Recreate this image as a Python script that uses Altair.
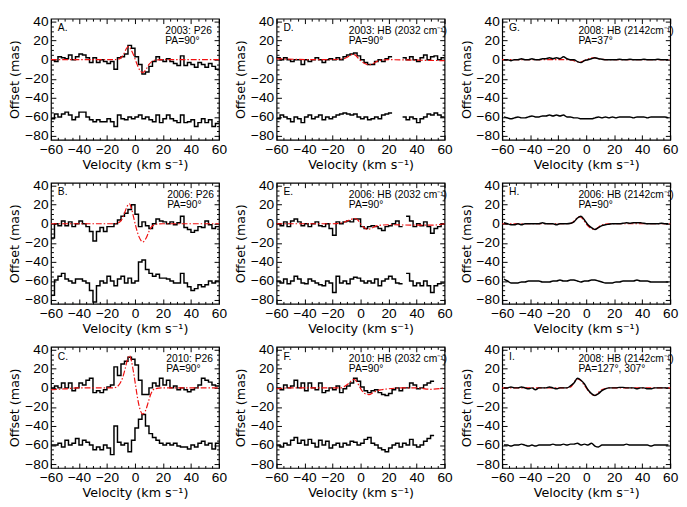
import altair as alt
import pandas as pd

# ---------------- data ----------------
BIN_WIDTH = 2.5
BIN_EDGES = [-60 + BIN_WIDTH * i for i in range(48)]   # velocity bins, km/s

A_UP = [0,-2,3,2,1,5,0,3,6,5, 2,-3,2,-3,0,-2,-4,-2,-10,2, 3,6,15,12,3,-5,-15,-13,-7,-2,
        3,0,-2,1,-2,-4,-6,4,-6,-3, -5,-8,-3,-5,-8,-4,-7,-10]
A_LO = [-62,-57,-60,-57,-55,-58,-63,-60,-55,-55, -60,-63,-65,-63,-65,-65,-62,-65,-70,-58,
        -62,-63,-60,-62,-60,-58,-62,-60,-63,-65, -58,-66,-62,-58,-62,-64,-66,-58,-66,-65,
        -63,-70,-66,-62,-66,-63,-70,-67]
A_MV = [-60,-15,-12,-10,-8,-6,-4.5,-3,-1,1,3,5.5,8,10,12,15,20,60]
A_MY = [0,0,0.5,2,6,12,14,11,5,-3,-10,-13.5,-10,-5,-2,-0.3,0,0]

B_UP = [-15,0,-2,3,-2,2,-3,0,3,0, -3,-8,-18,-8,-4,-8,-3,-3,0,4, 8,11,15,20,10,-3,2,-2,-5,0,
        5,3,2,0,2,-1,1,8,-4,-6, -9,-7,-3,-4,3,-1,-5,-3]
B_LO = [-75,-59,-55,-52,-58,-60,-62,-58,-58,-60, -62,-70,-82,-65,-60,-62,-55,-60,-65,-58,
        -55,-62,-57,-62,-60,-40,-38,-48,-52,-55, -53,-57,-57,-58,-60,-62,-62,-52,-62,-66,
        -70,-68,-64,-66,-64,-60,-62,-60]
B_MV = [-60,-15,-12,-10,-8,-6,-4,-2.5,-1,1,3,5.5,8,10,12,15,20,60]
B_MY = [0,0,1,3,9,17,21,16,7,-5,-14,-19,-15,-8,-3,-0.5,0,0]

C_UP = [0,2,0,5,0,5,-3,0,5,3, 8,10,-5,-3,-5,-2,1,3,22,13, 25,28,32,30,24,8,-7,-7,0,5,
        2,10,3,8,0,2,-2,0,-2,-4, -2,0,3,10,8,6,3,2]
C_LO = [-60,-60,-58,-62,-55,-60,-58,-53,-60,-55, -57,-60,-65,-62,-65,-60,-63,-70,-40,-57,
        -60,-58,-67,-55,-42,-33,-28,-40,-48,-52, -55,-58,-60,-58,-60,-58,-61,-62,-62,-64,
        -60,-62,-58,-56,-60,-58,-64,-58]
C_MV = [-60,-50,-40,-15,-13,-11,-9,-7,-5.5,-4,-2.5,-1,0.5,2,3.5,5.5,7.5,9.5,11.5,14,20,60]
C_MY = [-2,-1,0,0,1,4,10,20,29,34,28,16,2,-12,-22,-27.5,-24,-15,-6,-1,0,0]

D_UP = [2,0,2,0,-2,0,0,-5,0,-2, 0,2,0,-3,0,1,0,2,0,3, 5,6,7,4,0,-3,-5,-5,-2,0,
        -2,1,3,None,None,None,2,0,3,0, -2,2,5,0,3,4,0,2]
D_LO = [-62,-58,-60,-62,-65,-60,-62,-66,-60,-58, -62,-60,-58,-63,-60,-62,-60,-58,-57,-56,
        -57,-58,-57,-60,-62,-60,-63,-62,-60,-62, -58,-57,-56,None,None,None,-60,-63,-60,-62,
        -66,-62,-60,-57,-58,-56,-58,-60]
D_MV = [-60,-30,-15,-12,-9,-6,-4,-2,0,3,6,9,12,15,20,40,60]
D_MY = [1,0,0.5,1,3,5.5,5,2,-1,-4,-5.5,-4,-1.5,-0.5,0,-0.5,-1]

E_UP = [0,-2,2,-3,3,5,2,-2,0,-3, 0,2,-2,-3,0,-5,-12,2,0,2, 3,2,5,5,-3,-5,-3,-2,-3,-5,
        -7,-3,-2,0,3,-3,None,8,3,-3, 0,-2,2,-3,-10,-5,-3,0]
E_LO = [-60,-62,-58,-63,-60,-55,-58,-62,-63,-58, -60,-62,-64,-65,-60,-62,-72,-55,-62,-60,
        -63,-58,-56,-57,-60,-62,-60,-62,-58,-65, -60,-58,-55,-58,-62,-63,None,-52,-60,-65,
        -62,-65,-60,-65,-72,-65,-63,-62]
E_MV = [-60,-20,-12,-8,-4,-2,0,2.5,5,8,12,20,40,50,60]
E_MY = [0,0,1.5,4,5.5,4,0,-4,-6,-4.5,-2,-1,-1.5,-1.5,0]

F_UP = [0,-2,3,0,2,8,0,5,-3,5, 0,-2,5,-5,-3,0,-2,2,-5,-1, 2,5,10,7,1,-3,-5,-3,-2,-5,
        -7,-8,-6,-2,0,-3,0,0,5,3, -1,0,3,5,7,None,None,None]
F_LO = [-60,-62,-58,-60,-55,-52,-58,-55,-60,-54, -58,-62,-55,-60,-56,-63,-60,-58,-62,-58,
        -60,-56,-57,-60,-58,-54,-52,-58,-60,-63, -65,-67,-63,-60,-58,-62,-58,-60,-54,-60,
        -62,-60,-56,-53,-50,None,None,None]
F_MV = [-60,-50,-30,-15,-12,-9,-6,-4.5,-3,-1,1,3,6,9,12,15,20,30,40,50,60]
F_MY = [-1,0,0,0,1,4,8,9,7,2,-3,-6,-7,-5,-3,-2,-1,0,0,-1.5,0]

G_UP = [0,0,-1,0,0,1,0,0,1,0, 0,1,1,2,1,2,1,3,1,0, 0,-2,-3,-1,0,1,2,1,0.5,0,
        0,0,0,0.5,0,0,0.5,0,0,0, 0.5,0,0,0,0.5,0,0,0]
G_LO = [-60,-61,-62,-61,-60,-61,-61,-60,-59,-60, -60,-59,-59,-58,-59,-58,-59,-58,-60,-60,
        -61,-61,-62,-62,-62,-62,-61,-60,-61,-60, -61,-60,-61,-60,-60,-60,-60,-61,-60,-60,
        -60,-61,-60,-60,-60,-60,-60,-61]
G_MV = [-60,-15,-10,-7,-5,-2,0,3,5,8,12,15,60]
G_MY = [0,0,-0.5,-2,-2.5,-1.5,0,1.5,2,1.2,0.3,0,0]

H_UP = [1,0,-1,-1,0,-1,0,0,0,0, 0,1,0,0,0,-1,0,0,0,0.5, 2,6,8,4,-1,-4,-6,-4,-2,-1,
        -0.5,0,0,0,0.5,1,0.5,1,1,1, 0.5,0,0,0,0,0.5,0,0]
H_LO = [-58,-60,-62,-62,-62,-61,-61,-60,-60,-60, -60,-61,-61,-61,-60,-60,-59,-60,-60,-59,
        -59,-60,-61,-60,-60,-59,-59,-60,-61,-62, -62,-62,-61,-61,-60,-60,-60,-60,-59,-60,
        -60,-60,-61,-61,-61,-61,-61,-61]
H_MV = [-60,-12,-10,-8,-5,-3,-1,1,3,5.5,8,10,13,16,60]
H_MY = [0,0,1,4,7.5,6,2,-2,-4.5,-6,-4.5,-2,-0.5,0,0]

I_UP = [0,0,1,0,0,1,0,-1,0,-2, 0,0,0,1,0,-1,0,0,0,2, 5,10,8,4,-2,-6,-8,-6,-3,-1,
        0,0,0,0.5,0.5,0,0,0,-1,0, 0,-1,-1,0,0,0,0,0]
I_LO = [-60,-60,-61,-60,-60,-59,-60,-61,-60,-61, -60,-60,-60,-60,-59,-60,-60,-59,-60,-59,
        -59,-58,-60,-59,-60,-58,-61,-62,-60,-60, -60,-60,-60,-60,-60,-59,-60,-60,-60,-60,
        -60,-60,-61,-60,-60,-60,-60,-60]
I_MV = [-60,-14,-11,-9,-6.5,-4,-2,0,2,4,6,8,10,13,17,60]
I_MY = [0,0,1,5,9.5,8,4,0,-4,-7,-8,-6,-3,-1,0,0]

LETTERS = ["A.", "B.", "C.", "D.", "E.", "F.", "G.", "H.", "I."]
LINE1 = ["2003: P26", "2006: P26", "2010: P26",
         "2003: HB (2032 cm\u207b\u00b9)", "2006: HB (2032 cm\u207b\u00b9)", "2010: HB (2032 cm\u207b\u00b9)",
         "2008: HB (2142cm\u207b\u00b9)", "2006: HB (2142cm\u207b\u00b9)", "2008: HB (2142cm\u207b\u00b9)"]
LINE2 = ["PA=90\u00b0", "PA=90\u00b0", "PA=90\u00b0", "PA=90\u00b0", "PA=90\u00b0", "PA=90\u00b0",
         "PA=37\u00b0", "PA=90\u00b0", "PA=127\u00b0, 307\u00b0"]

X_MAJ = [-60, -40, -20, 0, 20, 40, 60]
X_MIN = [-55, -50, -45, -35, -30, -25, -15, -10, -5, 5, 10, 15, 25, 30, 35, 45, 50, 55]
Y_MAJ = [-80, -60, -40, -20, 0, 20, 40]
Y_MIN = [-75, -70, -65, -55, -50, -45, -35, -30, -25, -15, -10, -5, 5, 10, 15, 25, 30, 35]

# ---------------- styling ----------------
W, H = 172, 124
XS = alt.Scale(domain=[-60, 60], nice=False, zero=False)
YS = alt.Scale(domain=[-84, 43], nice=False, zero=False)
LABEL_FONT = "Liberation Sans"
TITLE_FONT = "DejaVu Sans"
RED = "#f01010"

main_x = alt.Axis(orient="bottom", values=X_MAJ, ticks=False, domain=False, grid=False,
                  labelFlush=False, labelOverlap=False, labelPadding=3,
                  labelFont=LABEL_FONT, labelFontSize=14, labelColor="black",
                  title="Velocity (km s\u207b\u00b9)", titleFont=TITLE_FONT, titleFontSize=13,
                  titleFontWeight="normal", titleColor="black", titlePadding=2)
main_y = alt.Axis(orient="left", values=Y_MAJ, ticks=False, domain=False, grid=False,
                  labelFlush=False, labelOverlap=False, labelPadding=3,
                  labelFont=LABEL_FONT, labelFontSize=14, labelColor="black",
                  title="Offset (mas)", titleFont=TITLE_FONT, titleFontSize=13,
                  titleFontWeight="normal", titleColor="black", titlePadding=3)


def tick_axis(orient, values, size):
    return alt.Axis(orient=orient, values=values, tickSize=size, offset=-size, labels=False,
                    domain=False, grid=False, title=None, tickColor="black", tickWidth=1)


def runs(vals):
    out, cur = [], []
    for i, v in enumerate(vals):
        if v is None:
            if cur:
                out.append(cur)
                cur = []
        else:
            cur.append(i)
    if cur:
        out.append(cur)
    return out


def make_panel(k, up, lo, mv, my, smooth, text_x):
    rows = []
    for name, vals in (("up", up), ("lo", lo)):
        for j, run in enumerate(runs(vals)):
            sid = f"{name}{j}"
            if smooth:
                for i in run:
                    rows.append({"v": BIN_EDGES[i] + BIN_WIDTH / 2, "off": vals[i], "s": sid})
            else:
                for i in run:
                    rows.append({"v": BIN_EDGES[i], "off": vals[i], "s": sid})
                last = run[-1]
                rows.append({"v": BIN_EDGES[last] + BIN_WIDTH, "off": vals[last], "s": sid})
    df = pd.DataFrame(rows)
    mdf = pd.DataFrame({"v": mv, "off": my})

    data_layer = alt.Chart(df).mark_line(
        interpolate="monotone" if smooth else "step-after", color="black", strokeWidth=1.5
    ).encode(x=alt.X("v:Q", scale=XS, axis=main_x),
             y=alt.Y("off:Q", scale=YS, axis=main_y),
             detail="s:N")
    model_layer = alt.Chart(mdf).mark_line(
        interpolate="monotone", color=RED, strokeWidth=1.2, strokeDash=[6, 2, 1.5, 2]
    ).encode(x=alt.X("v:Q", scale=XS, axis=tick_axis("top", X_MAJ, 5)),
             y=alt.Y("off:Q", scale=YS, axis=tick_axis("right", Y_MAJ, 5)))
    t1 = alt.Chart(mdf).mark_line(opacity=0).encode(
        x=alt.X("v:Q", scale=XS, axis=tick_axis("bottom", X_MAJ, 5)),
        y=alt.Y("off:Q", scale=YS, axis=tick_axis("left", Y_MAJ, 5)))
    t2 = alt.Chart(mdf).mark_line(opacity=0).encode(
        x=alt.X("v:Q", scale=XS, axis=tick_axis("top", X_MIN, 2.5)),
        y=alt.Y("off:Q", scale=YS, axis=tick_axis("right", Y_MIN, 2.5)))
    t3 = alt.Chart(mdf).mark_line(opacity=0).encode(
        x=alt.X("v:Q", scale=XS, axis=tick_axis("bottom", X_MIN, 2.5)),
        y=alt.Y("off:Q", scale=YS, axis=tick_axis("left", Y_MIN, 2.5)))

    def txt(s, x, y):
        return alt.Chart(pd.DataFrame({"t": [s]})).mark_text(
            align="left", baseline="middle", font=LABEL_FONT, fontSize=10.5, color="black"
        ).encode(x=alt.value(x), y=alt.value(y), text="t:N")

    texts = [txt(LETTERS[k], 7, 10), txt(LINE1[k], text_x, 12.5), txt(LINE2[k], text_x, 23)]
    if smooth:
        layers = [model_layer, data_layer, t1, t2, t3] + texts
    else:
        layers = [data_layer, model_layer, t1, t2, t3] + texts
    return alt.layer(*layers).resolve_axis(x="independent", y="independent").properties(
        width=W, height=H)


series = [
    (A_UP, A_LO, A_MV, A_MY, False, 117), (B_UP, B_LO, B_MV, B_MY, False, 119),
    (C_UP, C_LO, C_MV, C_MY, False, 118), (D_UP, D_LO, D_MV, D_MY, False, 74),
    (E_UP, E_LO, E_MV, E_MY, False, 74), (F_UP, F_LO, F_MV, F_MY, False, 74),
    (G_UP, G_LO, G_MV, G_MY, True, 78), (H_UP, H_LO, H_MV, H_MY, True, 78),
    (I_UP, I_LO, I_MV, I_MY, True, 78),
]
panels = [make_panel(k, *s) for k, s in enumerate(series)]

rows = []
for r in range(3):
    rows.append(alt.hconcat(panels[r], panels[r + 3], panels[r + 6], spacing=6))

chart = alt.vconcat(*rows, spacing=6).properties(padding=0, background="white").configure_view(
    stroke="black", strokeWidth=1.2)

chart.save("out.html", embed_options={"renderer": "svg", "actions": False})
